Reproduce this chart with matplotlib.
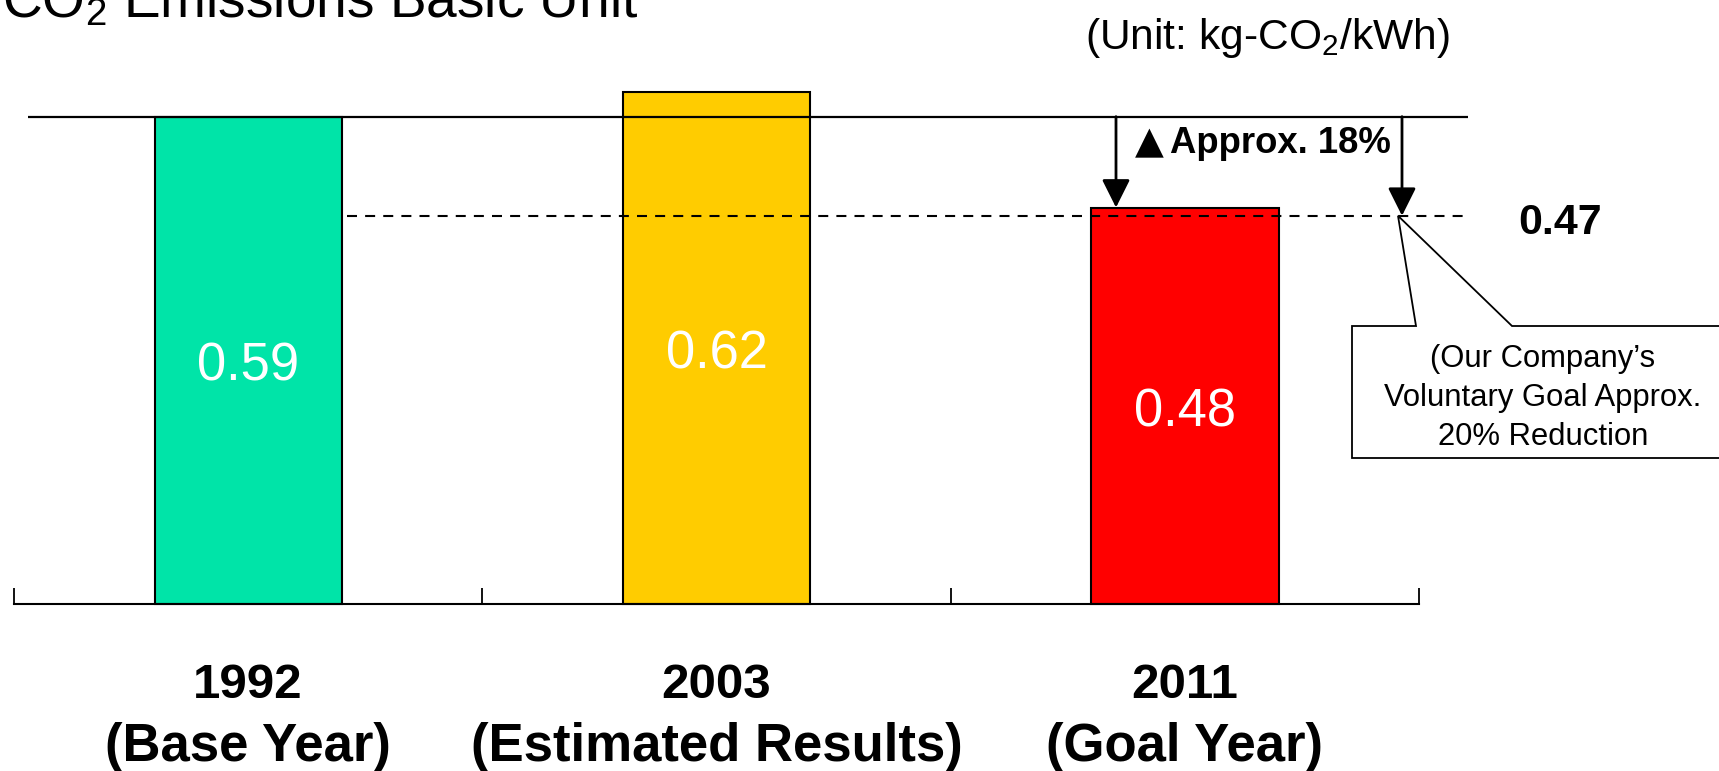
import matplotlib
matplotlib.use('Agg')
import matplotlib.pyplot as plt
from matplotlib.patches import Polygon

# ---------------- data ----------------
categories = ['1992', '2003', '2011']
sublabels = ['(Base Year)', '(Estimated Results)', '(Goal Year)']
values = [0.59, 0.62, 0.48]
value_labels = ['0.59', '0.62', '0.48']
goal_value = 0.47
goal_label = '0.47'
reduction_mark = '\u25B2'
reduction_label = 'Approx. 18%'
callout_lines = ['(Our Company\u2019s', 'Voluntary Goal Approx.', '20% Reduction']
bar_colors = ['#00E4A8', '#FFCC00', '#FF0000']
title = 'CO$_2$ Emissions Basic Unit'
unit_label = '(Unit: kg-CO$_2$/kWh)'

# ---------------- style ----------------
plt.rcParams['font.family'] = ['Liberation Sans', 'DejaVu Sans']
plt.rcParams['mathtext.fontset'] = 'custom'
plt.rcParams['mathtext.rm'] = 'Liberation Sans'
plt.rcParams['mathtext.it'] = 'Liberation Sans:italic'
plt.rcParams['mathtext.bf'] = 'Liberation Sans:bold'

W, H, DPI = 1719, 771, 100
fig = plt.figure(figsize=(W / DPI, H / DPI), dpi=DPI)
fig.patch.set_facecolor('white')
ax = fig.add_axes([0, 0, 1, 1])

n = len(categories)
X0, X1 = 14, 1419            # pixel extent of category axis
pxx = (X1 - X0) / n          # pixels per category
base_px = 604                # pixel row of the baseline (from top)
pxy = 826                    # pixels per value unit
ax.set_xlim(-0.5 - X0 / pxx, n - 0.5 + (W - X1) / pxx)
ax.set_ylim(-(H - base_px) / pxy, base_px / pxy)


def dx(px):
    return -0.5 + (px - X0) / pxx


def dy(py):
    return (base_px - py) / pxy


# axis
for s in ['top', 'right', 'left']:
    ax.spines[s].set_visible(False)
ax.spines['bottom'].set_position(('data', 0))
ax.spines['bottom'].set_bounds(-0.5, n - 0.5)
ax.spines['bottom'].set_linewidth(1.5)
ax.spines['bottom'].set_zorder(4)
ax.set_yticks([])
ax.set_xticks([i - 0.5 for i in range(n + 1)])
ax.tick_params(axis='x', direction='in', length=11.5, width=1.3,
               labelbottom=False)

# bars
xs = list(range(n))
ax.bar(xs, values, width=0.4, color=bar_colors, edgecolor='black',
       linewidth=1.5, zorder=2)

# value labels in bars
for i, (v, lab) in enumerate(zip(values, value_labels)):
    ax.annotate(lab, xy=(i, v / 2), xytext=(0, -14.8),
                textcoords='offset points', ha='center', va='baseline',
                color='white', fontsize=37.8, zorder=5)

# base-year level line and goal dashed line
ax.hlines(values[0], dx(28), dx(1468), color='black', lw=1.6, zorder=3)
ax.hlines(goal_value, dx(347), dx(1468), color='black', lw=1.5,
          linestyles=(0, (4.8, 3.9)), zorder=3)

# arrows
arrow_kw = dict(arrowstyle='-|>,head_length=0.4,head_width=0.2',
                mutation_scale=43, lw=2, color='black',
                shrinkA=0, shrinkB=0)
ax.annotate('', xy=(dx(1116), values[2]), xytext=(dx(1116), values[0]),
            arrowprops=arrow_kw, zorder=4)
ax.annotate('', xy=(dx(1402), goal_value), xytext=(dx(1402), values[0]),
            arrowprops=arrow_kw, zorder=4)

ax.text(dx(1135), dy(153), reduction_mark, ha='left', va='baseline',
        fontsize=27, family=['DejaVu Sans'], zorder=5)
ax.text(dx(1170), dy(153), reduction_label, ha='left', va='baseline',
        fontsize=26.3, fontweight='bold', zorder=5)

ax.annotate(goal_label, xy=(dx(1518), goal_value), xytext=(0, -13),
            textcoords='offset points', ha='left', va='baseline',
            fontsize=31, fontweight='bold')

# callout box
tip = (dx(1398), goal_value)
poly = [tip, (dx(1416), dy(326)), (dx(1352), dy(326)), (dx(1352), dy(458)),
        (dx(1760), dy(458)), (dx(1760), dy(326)), (dx(1512), dy(326))]
ax.add_patch(Polygon(poly, closed=True, facecolor='white',
                     edgecolor='black', lw=1.3, zorder=3, clip_on=False))
for k, line in enumerate(callout_lines):
    ax.text(dx(1543), dy(367 + 39 * k), line, ha='center', va='baseline',
            fontsize=22.3, zorder=5)

# category labels
for i, (c, s) in enumerate(zip(categories, sublabels)):
    ax.text(i, dy(698), c, ha='center', va='baseline', fontsize=35.5,
            fontweight='bold')
    ax.text(i, dy(761), s, ha='center', va='baseline', fontsize=38,
            fontweight='bold')

# title & unit
fig.text(2 / W, 1 - 17 / H, title, ha='left', va='baseline', fontsize=39.6)
fig.text(1267 / W, 1 - 49 / H, unit_label, ha='center', va='baseline',
         fontsize=30.6)

fig.savefig('out.png', dpi=DPI, facecolor='white')
